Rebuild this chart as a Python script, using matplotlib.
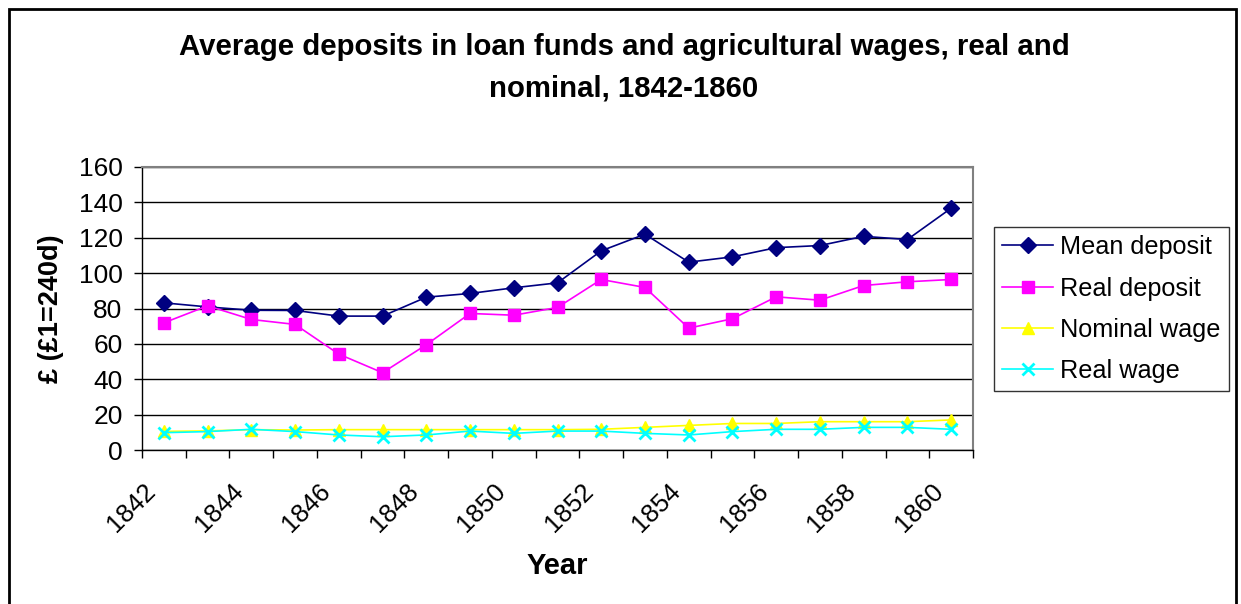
import matplotlib

matplotlib.use("Agg")
import matplotlib.pyplot as plt
from matplotlib.transforms import ScaledTranslation
from matplotlib.patches import Rectangle

plt.rcParams["font.family"] = ["Liberation Sans", "DejaVu Sans"]

years = list(range(1842, 1861))
mean_deposit = [83.2, 80.9, 79.0, 78.9, 75.7, 75.7, 86.4, 88.5, 91.7, 94.5,
                112.6, 122.0, 106.2, 109.2, 114.4, 115.6, 120.8, 119.0, 136.7]
real_deposit = [71.9, 81.5, 73.8, 71.0, 54.2, 43.7, 59.5, 77.2, 76.2, 80.6,
                96.4, 91.9, 68.9, 74.2, 86.6, 84.7, 93.0, 95.1, 96.4]
nominal_wage = [10.5, 10.8, 11.5, 11.3, 11.5, 11.5, 11.5, 11.5, 11.5, 11.5,
                11.7, 12.8, 13.9, 15.0, 15.0, 16.0, 16.0, 16.0, 17.0]
real_wage = [9.8, 10.4, 11.7, 10.4, 8.5, 7.5, 8.5, 10.7, 9.4, 10.7,
             10.7, 9.4, 8.5, 10.4, 11.7, 11.7, 12.8, 12.8, 11.7]

series = [
    ("Mean deposit", mean_deposit, "#000080", "D", 8.5),
    ("Real deposit", real_deposit, "#FF00FF", "s", 8),
    ("Nominal wage", nominal_wage, "#FFFF00", "^", 9),
    ("Real wage", real_wage, "#00FFFF", "x", 9),
]

fig = plt.figure(figsize=(12.41, 6.04), dpi=100)
fig.patches.append(Rectangle((9 / 1241, -0.01), (1236 - 9) / 1241, 1 - 9 / 604 + 0.01,
                             transform=fig.transFigure, fill=False,
                             edgecolor="black", linewidth=2))
ax = fig.add_axes([142 / 1241, 154 / 604, 831 / 1241, 283 / 604])

x = list(range(len(years)))
for name, vals, color, marker, ms in series:
    ax.plot(x, vals, color=color, linewidth=1.2, marker=marker, markersize=ms,
            markeredgewidth=2 if marker == "x" else 1, label=name,
            clip_on=False)

ax.set_xlim(-0.5, len(years) - 0.5)
ax.set_ylim(0, 160)
ax.set_yticks(range(0, 161, 20))
ax.grid(axis="y", color="black", linewidth=1)
ax.set_axisbelow(True)
ax.tick_params(axis="y", direction="out", length=6, width=1, pad=8, labelsize=19)

ax.set_xticks(x[::2], [str(y) for y in years[::2]])
ax.set_xticks([i - 0.5 for i in range(len(years) + 1)], minor=True)
ax.tick_params(axis="x", which="major", length=0, pad=27, labelsize=18.5)
ax.tick_params(axis="x", which="minor", direction="out", length=6, width=1)
offset = ScaledTranslation(-12 / 100, 0, fig.dpi_scale_trans)
for lab in ax.get_xticklabels():
    lab.set_rotation(45)
    lab.set_ha("right")
    lab.set_va("center")
    lab.set_rotation_mode("anchor")
    lab.set_transform(lab.get_transform() + offset)

for side in ("top", "right"):
    ax.spines[side].set_color("#808080")
    ax.spines[side].set_linewidth(1.5)
for side in ("left", "bottom"):
    ax.spines[side].set_color("black")
    ax.spines[side].set_linewidth(1)

ax.set_xlabel("Year", fontsize=21, fontweight="bold")
ax.xaxis.set_label_coords(0.5, -0.36)
ax.set_ylabel("£ (£1=240d)", fontsize=19.5, fontweight="bold")
ax.yaxis.set_label_coords(-0.094, 0.5)

fig.text(624 / 1241, 1 - 68 / 604,
         "Average deposits in loan funds and agricultural wages, real and\nnominal, 1842-1860",
         ha="center", va="center", fontsize=21.2, fontweight="bold", linespacing=1.6)

leg = ax.legend(loc="upper left", bbox_to_anchor=(994 / 1241, 1 - 227 / 604),
                bbox_transform=fig.transFigure, fontsize=18.2, frameon=True,
                fancybox=False, handlelength=2.0, labelspacing=0.68,
                borderaxespad=0, borderpad=0.33, handletextpad=0.3)
leg.get_frame().set_edgecolor("black")
leg.get_frame().set_linewidth(1)

fig.savefig("out.png", dpi=100)
plt.close(fig)
